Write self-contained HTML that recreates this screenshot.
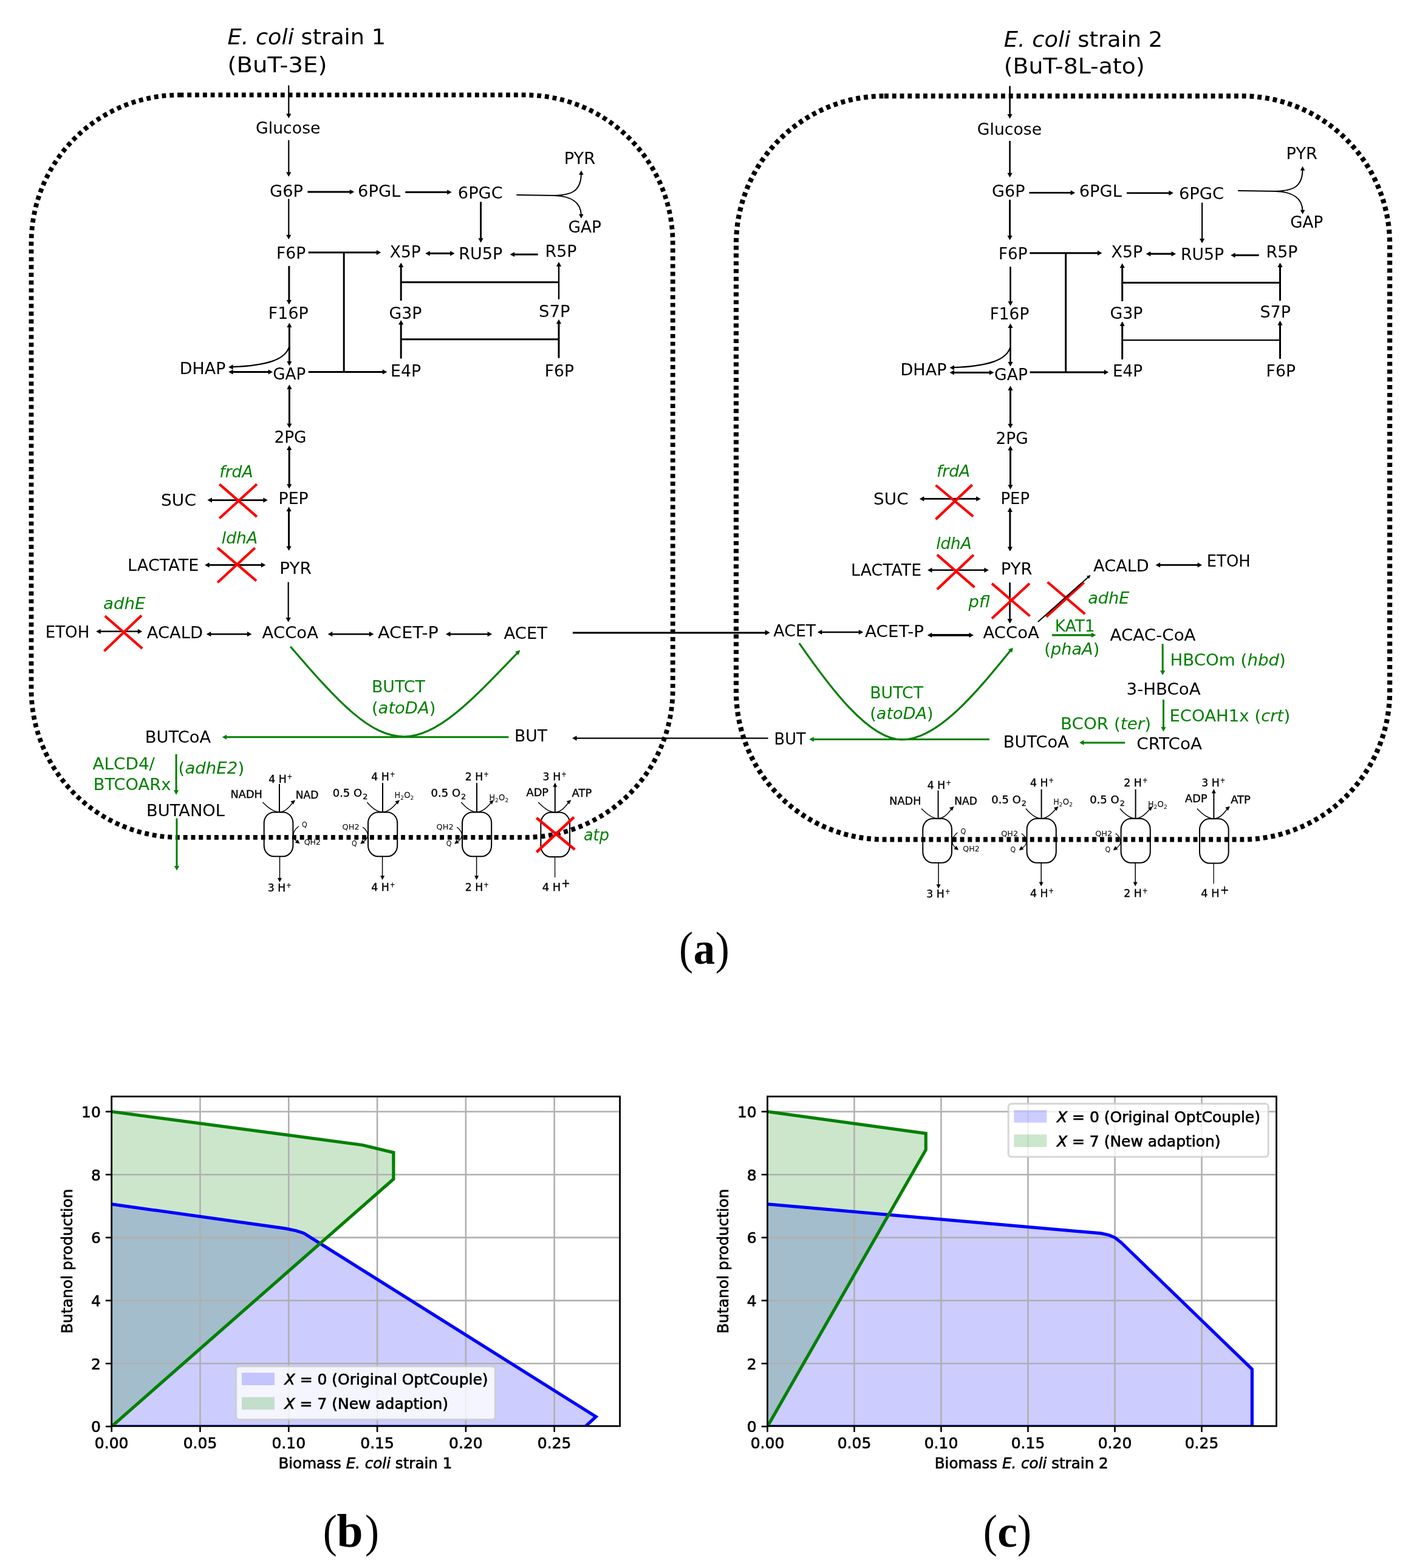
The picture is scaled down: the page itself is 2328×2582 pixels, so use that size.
<!DOCTYPE html>
<html lang="en"><head><meta charset="utf-8"><title>E. coli co-culture butanol production</title>
<style>
html,body{margin:0;padding:0;background:#fff;width:2328px;height:2582px;overflow:hidden}
svg{display:block}
svg text{font-family:"DejaVu Sans","Liberation Sans",sans-serif}
svg text.cap{font-family:"Liberation Serif","DejaVu Serif",serif}
</style></head>
<body>
<svg width="2328" height="2582" viewBox="0 0 2328 2582">
<rect x="0" y="0" width="2328" height="2582" fill="#fff" stroke="none"/>
<g stroke="#000" fill="#000">
<path d="M295.5 156.4H863.7A244 244 0 0 1 1107.7 400.4V1134.9A244 244 0 0 1 863.7 1378.9H295.5A244 244 0 0 1 51.5 1134.9V400.4A244 244 0 0 1 295.5 156.4Z" stroke-width="7.8" stroke-dasharray="6.9 5.9" fill="none"/>
<text x="374.5" y="73.4" font-size="36" textLength="260.5" lengthAdjust="spacingAndGlyphs" stroke="none"><tspan font-style="italic">E. coli</tspan> strain 1</text>
<text x="374.5" y="118.8" font-size="36" textLength="164.0" lengthAdjust="spacingAndGlyphs" stroke="none">(BuT-3E)</text>
<polygon points="475.3,194.7 471.2,187.2 479.4,187.2" stroke="none"/>
<line x1="475.3" y1="140.6" x2="475.3" y2="188.2" stroke-width="2.2"/>
<text x="421.0" y="219.8" font-size="27" textLength="106.5" lengthAdjust="spacingAndGlyphs" stroke="none">Glucose</text>
<polygon points="475.3,291.0 471.2,283.5 479.4,283.5" stroke="none"/>
<line x1="475.3" y1="230.8" x2="475.3" y2="284.5" stroke-width="2.2"/>
<text x="444.0" y="324.4" font-size="27" textLength="55.0" lengthAdjust="spacingAndGlyphs" stroke="none">G6P</text>
<polygon points="583.3,316.0 575.8,320.1 575.8,311.9" stroke="none"/>
<line x1="506.4" y1="316.0" x2="576.8" y2="316.0" stroke-width="3.2"/>
<text x="589.0" y="324.4" font-size="27" textLength="70.3" lengthAdjust="spacingAndGlyphs" stroke="none">6PGL</text>
<polygon points="743.7,316.5 736.2,320.6 736.2,312.4" stroke="none"/>
<line x1="667.3" y1="316.5" x2="737.2" y2="316.5" stroke-width="3.0"/>
<text x="753.8" y="326.7" font-size="27" textLength="74.0" lengthAdjust="spacingAndGlyphs" stroke="none">6PGC</text>
<text x="928.8" y="270.0" font-size="27" textLength="51.4" lengthAdjust="spacingAndGlyphs" stroke="none">PYR</text>
<text x="935.4" y="383.0" font-size="27" textLength="54.6" lengthAdjust="spacingAndGlyphs" stroke="none">GAP</text>
<path d="M850.4 321.0L916.4 322.0" stroke-width="2.2" fill="none" />
<path d="M912.4 322.0C940.0 321.0 956.0 316.0 956.9 287.0" stroke-width="2.0" fill="none" />
<polygon points="956.9,280.7 960.7,287.7 953.1,287.7" stroke="none"/>
<path d="M912.4 322.0C940.0 323.0 956.0 332.0 956.9 354.0" stroke-width="2.0" fill="none" />
<polygon points="956.9,359.8 953.1,352.8 960.7,352.8" stroke="none"/>
<polygon points="791.6,399.7 787.5,392.2 795.7,392.2" stroke="none"/>
<line x1="791.6" y1="332.4" x2="791.6" y2="393.2" stroke-width="2.8"/>
<polygon points="475.3,394.3 471.2,386.8 479.4,386.8" stroke="none"/>
<line x1="475.3" y1="327.5" x2="475.3" y2="387.8" stroke-width="2.2"/>
<text x="455.0" y="426.4" font-size="27" textLength="48.3" lengthAdjust="spacingAndGlyphs" stroke="none">F6P</text>
<polygon points="627.3,415.8 619.8,419.9 619.8,411.7" stroke="none"/>
<line x1="507.7" y1="415.8" x2="620.8" y2="415.8" stroke-width="3.0"/>
<path d="M566.2 415.8V612.4" stroke-width="3.0" fill="none" />
<text x="641.8" y="424.0" font-size="27" textLength="51.0" lengthAdjust="spacingAndGlyphs" stroke="none">X5P</text>
<polygon points="748.6,417.3 741.1,421.4 741.1,413.2" stroke="none"/>
<polygon points="700.2,417.3 707.7,413.2 707.7,421.4" stroke="none"/>
<line x1="706.7" y1="417.3" x2="742.1" y2="417.3" stroke-width="3.0"/>
<text x="755.2" y="427.0" font-size="27" textLength="72.0" lengthAdjust="spacingAndGlyphs" stroke="none">RU5P</text>
<polygon points="839.6,419.0 847.1,414.9 847.1,423.1" stroke="none"/>
<line x1="885.7" y1="419.0" x2="846.1" y2="419.0" stroke-width="3.0"/>
<text x="897.6" y="423.4" font-size="27" textLength="52.0" lengthAdjust="spacingAndGlyphs" stroke="none">R5P</text>
<polygon points="660.2,432.6 664.3,440.1 656.1,440.1" stroke="none"/>
<line x1="660.2" y1="495.0" x2="660.2" y2="439.1" stroke-width="3.0"/>
<path d="M660.2 464.7H920" stroke-width="3.0" fill="none" />
<polygon points="920.0,431.3 924.1,438.8 915.9,438.8" stroke="none"/>
<line x1="920.0" y1="492.9" x2="920.0" y2="437.8" stroke-width="2.4"/>
<text x="441.8" y="524.5" font-size="27" textLength="66.0" lengthAdjust="spacingAndGlyphs" stroke="none">F16P</text>
<text x="640.4" y="524.5" font-size="27" textLength="54.0" lengthAdjust="spacingAndGlyphs" stroke="none">G3P</text>
<text x="887.0" y="522.0" font-size="27" textLength="51.5" lengthAdjust="spacingAndGlyphs" stroke="none">S7P</text>
<polygon points="660.2,527.1 664.3,534.6 656.1,534.6" stroke="none"/>
<line x1="660.2" y1="590.4" x2="660.2" y2="533.6" stroke-width="3.0"/>
<path d="M660.2 558.8H920" stroke-width="3.0" fill="none" />
<polygon points="920.0,525.8 924.1,533.3 915.9,533.3" stroke="none"/>
<line x1="920.0" y1="589.6" x2="920.0" y2="532.3" stroke-width="3.0"/>
<polygon points="475.9,501.6 471.8,494.1 480.0,494.1" stroke="none"/>
<line x1="475.9" y1="438.0" x2="475.9" y2="495.1" stroke-width="3.0"/>
<polygon points="476.4,602.6 472.3,595.1 480.5,595.1" stroke="none"/>
<polygon points="476.4,531.5 480.5,539.0 472.3,539.0" stroke="none"/>
<line x1="476.4" y1="538.0" x2="476.4" y2="596.1" stroke-width="3.0"/>
<text x="295.8" y="616.2" font-size="27" textLength="75.6" lengthAdjust="spacingAndGlyphs" stroke="none">DHAP</text>
<text x="449.2" y="624.6" font-size="27" textLength="54.0" lengthAdjust="spacingAndGlyphs" stroke="none">GAP</text>
<polygon points="449.2,612.5 441.7,616.6 441.7,608.4" stroke="none"/>
<polygon points="376.2,612.5 383.7,608.4 383.7,616.6" stroke="none"/>
<line x1="382.7" y1="612.5" x2="442.7" y2="612.5" stroke-width="3.2"/>
<path d="M476 571C470 592 440 602 383 604.2" stroke-width="2.2" fill="none" />
<polygon points="376.2,604.4 383.7,600.3 383.7,608.5" stroke="none"/>
<polygon points="637.4,612.4 629.9,616.5 629.9,608.3" stroke="none"/>
<line x1="507.7" y1="612.4" x2="630.9" y2="612.4" stroke-width="3.0"/>
<text x="643.0" y="619.5" font-size="27" textLength="50.2" lengthAdjust="spacingAndGlyphs" stroke="none">E4P</text>
<text x="896.7" y="619.5" font-size="27" textLength="48.3" lengthAdjust="spacingAndGlyphs" stroke="none">F6P</text>
<polygon points="476.4,705.0 472.3,697.5 480.5,697.5" stroke="none"/>
<polygon points="476.4,633.2 480.5,640.7 472.3,640.7" stroke="none"/>
<line x1="476.4" y1="639.7" x2="476.4" y2="698.5" stroke-width="3.0"/>
<text x="451.4" y="729.1" font-size="27" textLength="53.2" lengthAdjust="spacingAndGlyphs" stroke="none">2PG</text>
<polygon points="476.2,804.7 472.1,797.2 480.3,797.2" stroke="none"/>
<polygon points="476.2,733.5 480.3,741.0 472.1,741.0" stroke="none"/>
<line x1="476.2" y1="740.0" x2="476.2" y2="798.2" stroke-width="3.0"/>
<text x="361.3" y="786.3" font-size="27" fill="#007f00" font-style="italic" textLength="55.4" lengthAdjust="spacingAndGlyphs" stroke="none">frdA</text>
<text x="265.0" y="833.3" font-size="27" textLength="58.0" lengthAdjust="spacingAndGlyphs" stroke="none">SUC</text>
<polygon points="440.9,823.6 433.4,827.7 433.4,819.5" stroke="none"/>
<polygon points="341.5,823.6 349.0,819.5 349.0,827.7" stroke="none"/>
<line x1="348.0" y1="823.6" x2="434.4" y2="823.6" stroke-width="2.6"/>
<path d="M361.3 797.3L422.9 850.9M422.9 797.3L361.3 853.5" stroke="#ff0000" stroke-width="4.2" fill="none"/>
<text x="458.5" y="830.2" font-size="27" textLength="49.2" lengthAdjust="spacingAndGlyphs" stroke="none">PEP</text>
<polygon points="475.6,907.1 471.5,899.6 479.7,899.6" stroke="none"/>
<polygon points="475.6,834.6 479.7,842.1 471.5,842.1" stroke="none"/>
<line x1="475.6" y1="841.1" x2="475.6" y2="900.6" stroke-width="3.0"/>
<text x="364.8" y="895.3" font-size="27" fill="#007f00" font-style="italic" textLength="59.4" lengthAdjust="spacingAndGlyphs" stroke="none">ldhA</text>
<text x="210.1" y="940.1" font-size="27" textLength="117.4" lengthAdjust="spacingAndGlyphs" stroke="none">LACTATE</text>
<polygon points="437.4,930.4 429.9,934.5 429.9,926.3" stroke="none"/>
<polygon points="337.1,930.4 344.6,926.3 344.6,934.5" stroke="none"/>
<line x1="343.6" y1="930.4" x2="430.9" y2="930.4" stroke-width="2.6"/>
<path d="M358.2 902.2L422.0 956.3M419.8 902.2L358.2 959.3" stroke="#ff0000" stroke-width="4.2" fill="none"/>
<text x="460.2" y="944.6" font-size="27" textLength="52.8" lengthAdjust="spacingAndGlyphs" stroke="none">PYR</text>
<polygon points="474.7,1024.4 470.6,1016.9 478.8,1016.9" stroke="none"/>
<line x1="474.7" y1="958.5" x2="474.7" y2="1017.9" stroke-width="2.2"/>
<text x="170.1" y="1003.3" font-size="27" fill="#007f00" font-style="italic" textLength="69.5" lengthAdjust="spacingAndGlyphs" stroke="none">adhE</text>
<text x="74.7" y="1049.5" font-size="27" textLength="72.6" lengthAdjust="spacingAndGlyphs" stroke="none">ETOH</text>
<polygon points="234.3,1039.8 226.8,1043.9 226.8,1035.7" stroke="none"/>
<polygon points="158.2,1039.8 165.7,1035.7 165.7,1043.9" stroke="none"/>
<line x1="164.7" y1="1039.8" x2="227.8" y2="1039.8" stroke-width="2.6"/>
<path d="M172.7 1014.3L234.3 1067.9M233.0 1013.4L171.4 1072.3" stroke="#ff0000" stroke-width="4.2" fill="none"/>
<text x="241.8" y="1050.8" font-size="27" textLength="92.2" lengthAdjust="spacingAndGlyphs" stroke="none">ACALD</text>
<polygon points="414.5,1044.2 407.0,1048.3 407.0,1040.1" stroke="none"/>
<polygon points="339.8,1044.2 347.3,1040.1 347.3,1048.3" stroke="none"/>
<line x1="346.3" y1="1044.2" x2="408.0" y2="1044.2" stroke-width="2.6"/>
<text x="431.6" y="1050.8" font-size="27" textLength="92.4" lengthAdjust="spacingAndGlyphs" stroke="none">ACCoA</text>
<polygon points="615.4,1044.2 607.9,1048.3 607.9,1040.1" stroke="none"/>
<polygon points="539.8,1044.2 547.3,1040.1 547.3,1048.3" stroke="none"/>
<line x1="546.3" y1="1044.2" x2="608.9" y2="1044.2" stroke-width="2.6"/>
<text x="622.0" y="1050.8" font-size="27" textLength="99.8" lengthAdjust="spacingAndGlyphs" stroke="none">ACET-P</text>
<polygon points="810.1,1044.2 802.6,1048.3 802.6,1040.1" stroke="none"/>
<polygon points="734.0,1044.2 741.5,1040.1 741.5,1048.3" stroke="none"/>
<line x1="740.5" y1="1044.2" x2="803.6" y2="1044.2" stroke-width="2.6"/>
<text x="829.5" y="1051.6" font-size="27" textLength="71.6" lengthAdjust="spacingAndGlyphs" stroke="none">ACET</text>
<polygon points="1267.3,1042.0 1259.8,1046.1 1259.8,1037.9" stroke="none"/>
<line x1="942.9" y1="1042.0" x2="1260.8" y2="1042.0" stroke-width="3.0"/>
<path d="M478.2 1064.8C560 1160 610 1213 666 1213C722 1213 780 1150 853 1074" stroke-width="3.2" stroke="#007f00" fill="none" />
<polygon points="856.3,1070.5 853.9,1078.7 848.1,1072.9" stroke="none" fill="#007f00"/>
<text x="611.9" y="1139.6" font-size="27" fill="#007f00" textLength="87.9" lengthAdjust="spacingAndGlyphs" stroke="none">BUTCT</text>
<text x="611.9" y="1174.7" font-size="27" fill="#007f00" textLength="105.5" lengthAdjust="spacingAndGlyphs" stroke="none">(<tspan font-style="italic">atoDA</tspan>)</text>
<text x="238.7" y="1223.0" font-size="27" textLength="108.6" lengthAdjust="spacingAndGlyphs" stroke="none">BUTCoA</text>
<polygon points="365.7,1213.8 373.2,1209.7 373.2,1217.9" stroke="none" fill="#007f00"/>
<line x1="837.4" y1="1213.8" x2="372.2" y2="1213.8" stroke-width="3.0" stroke="#007f00"/>
<text x="847.0" y="1220.9" font-size="27" textLength="54.1" lengthAdjust="spacingAndGlyphs" stroke="none">BUT</text>
<polygon points="942.0,1215.6 949.5,1211.5 949.5,1219.7" stroke="none"/>
<line x1="1264.6" y1="1215.6" x2="948.5" y2="1215.6" stroke-width="2.2"/>
<text x="152.5" y="1267.0" font-size="27" fill="#007f00" textLength="102.5" lengthAdjust="spacingAndGlyphs" stroke="none">ALCD4/</text>
<text x="153.8" y="1300.9" font-size="27" fill="#007f00" textLength="127.5" lengthAdjust="spacingAndGlyphs" stroke="none">BTCOARx</text>
<polygon points="290.1,1308.8 286.0,1301.3 294.2,1301.3" stroke="none" fill="#007f00"/>
<line x1="290.1" y1="1242.0" x2="290.1" y2="1302.3" stroke-width="3.0" stroke="#007f00"/>
<text x="293.6" y="1273.6" font-size="27" fill="#007f00" textLength="108.6" lengthAdjust="spacingAndGlyphs" stroke="none">(<tspan font-style="italic">adhE2</tspan>)</text>
<text x="240.9" y="1344.0" font-size="27" textLength="129.2" lengthAdjust="spacingAndGlyphs" stroke="none">BUTANOL</text>
<polygon points="291.0,1433.4 286.9,1425.9 295.1,1425.9" stroke="none" fill="#007f00"/>
<line x1="291.0" y1="1347.5" x2="291.0" y2="1426.9" stroke-width="3.0" stroke="#007f00"/>
<rect x="434.7" y="1337.4" width="47.7" height="72.9" rx="16.5" ry="18" fill="none" stroke-width="2.0"/>
<path d="M460.0 1291.1V1337.4" stroke-width="2.0" fill="none" />
<text><tspan x="442.2" y="1288.9" font-size="16.8" textLength="29.6" lengthAdjust="spacingAndGlyphs" stroke="#000" stroke-width="0.35">4 H</tspan><tspan x="472.8" y="1282.9" font-size="11.5" textLength="8.4" lengthAdjust="spacingAndGlyphs" stroke="#000" stroke-width="0.25">+</tspan></text>
<text x="379.6" y="1314.1" font-size="16.8" textLength="52.3" lengthAdjust="spacingAndGlyphs" stroke="#000" stroke-width="0.35">NADH</text>
<text x="486.7" y="1314.8" font-size="16.8" textLength="37.7" lengthAdjust="spacingAndGlyphs" stroke="#000" stroke-width="0.35">NAD</text>
<path d="M432.5 1321.0Q448.0 1337.2 460.0 1337.2Q471.0 1337.2 481.6 1321.8" stroke-width="1.4" fill="none" />
<polygon points="486.1,1317.6 483.0,1324.8 478.5,1319.5" stroke="none"/>
<polygon points="460.5,1452.7 457.0,1445.7 464.0,1445.7" stroke="none"/>
<line x1="460.5" y1="1410.3" x2="460.5" y2="1446.7" stroke-width="1.5"/>
<text><tspan x="440.7" y="1467.6" font-size="16.8" textLength="29.6" lengthAdjust="spacingAndGlyphs" stroke="#000" stroke-width="0.35">3 H</tspan><tspan x="471.3" y="1461.6" font-size="11.5" textLength="8.4" lengthAdjust="spacingAndGlyphs" stroke="#000" stroke-width="0.25">+</tspan></text>
<text x="496.9" y="1362.1" font-size="11.5" textLength="8.8" lengthAdjust="spacingAndGlyphs" stroke="none">Q</text>
<text x="500.7" y="1391.0" font-size="11.5" textLength="27.4" lengthAdjust="spacingAndGlyphs" stroke="none">QH2</text>
<path d="M491.7 1360.6Q483.0 1368.0 483.2 1375.0Q483.4 1382.0 489.5 1386.0" stroke-width="1.3" fill="none" />
<polygon points="493.6,1389.2 485.9,1387.8 490.1,1382.2" stroke="none"/>
<rect x="606.0" y="1337.4" width="48.2" height="72.9" rx="16.5" ry="18" fill="none" stroke-width="2.0"/>
<path d="M630.0 1289.2V1337.4" stroke-width="2.0" fill="none" />
<text><tspan x="611.3" y="1284.6" font-size="16.8" textLength="29.6" lengthAdjust="spacingAndGlyphs" stroke="#000" stroke-width="0.35">4 H</tspan><tspan x="641.9" y="1278.6" font-size="11.5" textLength="8.4" lengthAdjust="spacingAndGlyphs" stroke="#000" stroke-width="0.25">+</tspan></text>
<text><tspan x="547.7" y="1312.2" font-size="16.8" textLength="48.5" lengthAdjust="spacingAndGlyphs" stroke="#000" stroke-width="0.35">0.5 O</tspan><tspan x="597.2" y="1316.4" font-size="11.5" textLength="8.2" lengthAdjust="spacingAndGlyphs" stroke="#000" stroke-width="0.25">2</tspan></text>
<text><tspan x="649.6" y="1314.1" font-size="13.5" textLength="9.6" lengthAdjust="spacingAndGlyphs" stroke="none">H</tspan><tspan x="659.2" y="1317.1" font-size="9.5" textLength="5.8" lengthAdjust="spacingAndGlyphs" stroke="none">2</tspan><tspan x="665.2" y="1314.1" font-size="13.5" textLength="10.4" lengthAdjust="spacingAndGlyphs" stroke="none">O</tspan><tspan x="675.6" y="1317.1" font-size="9.5" textLength="5.8" lengthAdjust="spacingAndGlyphs" stroke="none">2</tspan></text>
<path d="M604.3 1321.0Q618.0 1337.2 630.0 1337.2Q641.0 1337.2 653.5 1321.8" stroke-width="1.4" fill="none" />
<polygon points="658.0,1317.6 654.9,1324.8 650.4,1319.5" stroke="none"/>
<text x="563.6" y="1366.2" font-size="11.5" textLength="28.0" lengthAdjust="spacingAndGlyphs" stroke="none">QH2</text>
<text x="578.9" y="1392.9" font-size="11.5" textLength="8.7" lengthAdjust="spacingAndGlyphs" stroke="none">Q</text>
<path d="M597.2 1362.1Q605.2 1368.0 605.4 1375.0Q605.2 1382.0 597.5 1386.5" stroke-width="1.3" fill="none" />
<polygon points="593.1,1389.7 596.6,1382.7 600.8,1388.3" stroke="none"/>
<polygon points="629.6,1449.0 626.1,1442.0 633.1,1442.0" stroke="none"/>
<line x1="629.6" y1="1410.3" x2="629.6" y2="1443.0" stroke-width="1.5"/>
<text><tspan x="611.3" y="1466.7" font-size="16.8" textLength="29.6" lengthAdjust="spacingAndGlyphs" stroke="#000" stroke-width="0.35">4 H</tspan><tspan x="641.9" y="1460.7" font-size="11.5" textLength="8.4" lengthAdjust="spacingAndGlyphs" stroke="#000" stroke-width="0.25">+</tspan></text>
<rect x="761.0" y="1337.4" width="48.2" height="72.9" rx="16.5" ry="18" fill="none" stroke-width="2.0"/>
<path d="M785.0 1289.2V1337.4" stroke-width="2.0" fill="none" />
<text><tspan x="765.7" y="1284.6" font-size="16.8" textLength="29.6" lengthAdjust="spacingAndGlyphs" stroke="#000" stroke-width="0.35">2 H</tspan><tspan x="796.3" y="1278.6" font-size="11.5" textLength="8.4" lengthAdjust="spacingAndGlyphs" stroke="#000" stroke-width="0.25">+</tspan></text>
<text><tspan x="709.6" y="1312.2" font-size="16.8" textLength="48.5" lengthAdjust="spacingAndGlyphs" stroke="#000" stroke-width="0.35">0.5 O</tspan><tspan x="759.1" y="1316.4" font-size="11.5" textLength="8.2" lengthAdjust="spacingAndGlyphs" stroke="#000" stroke-width="0.25">2</tspan></text>
<text><tspan x="805.4" y="1318.2" font-size="13.5" textLength="9.6" lengthAdjust="spacingAndGlyphs" stroke="none">H</tspan><tspan x="815.0" y="1321.2" font-size="9.5" textLength="5.8" lengthAdjust="spacingAndGlyphs" stroke="none">2</tspan><tspan x="821.0" y="1318.2" font-size="13.5" textLength="10.4" lengthAdjust="spacingAndGlyphs" stroke="none">O</tspan><tspan x="831.4" y="1321.2" font-size="9.5" textLength="5.8" lengthAdjust="spacingAndGlyphs" stroke="none">2</tspan></text>
<path d="M759.3 1321.0Q773.0 1337.2 785.0 1337.2Q796.0 1337.2 808.5 1321.8" stroke-width="1.4" fill="none" />
<polygon points="813.0,1317.6 809.9,1324.8 805.4,1319.5" stroke="none"/>
<text x="718.6" y="1366.2" font-size="11.5" textLength="28.0" lengthAdjust="spacingAndGlyphs" stroke="none">QH2</text>
<text x="734.8" y="1392.9" font-size="11.5" textLength="8.7" lengthAdjust="spacingAndGlyphs" stroke="none">Q</text>
<path d="M752.2 1362.1Q760.2 1368.0 760.4 1375.0Q760.2 1382.0 752.5 1386.5" stroke-width="1.3" fill="none" />
<polygon points="748.1,1389.7 751.6,1382.7 755.8,1388.3" stroke="none"/>
<polygon points="784.6,1449.0 781.1,1442.0 788.1,1442.0" stroke="none"/>
<line x1="784.6" y1="1410.3" x2="784.6" y2="1443.0" stroke-width="1.5"/>
<text><tspan x="765.7" y="1466.7" font-size="16.8" textLength="29.6" lengthAdjust="spacingAndGlyphs" stroke="#000" stroke-width="0.35">2 H</tspan><tspan x="796.3" y="1460.7" font-size="11.5" textLength="8.4" lengthAdjust="spacingAndGlyphs" stroke="#000" stroke-width="0.25">+</tspan></text>
<rect x="890.4" y="1337.8" width="47.7" height="73.2" rx="16.5" ry="18" fill="none" stroke-width="2.0"/>
<polygon points="913.8,1288.7 917.3,1295.7 910.3,1295.7" stroke="none"/>
<line x1="913.8" y1="1337.8" x2="913.8" y2="1294.7" stroke-width="2.0"/>
<text><tspan x="893.6" y="1284.6" font-size="16.8" textLength="29.6" lengthAdjust="spacingAndGlyphs" stroke="#000" stroke-width="0.35">3 H</tspan><tspan x="924.2" y="1278.6" font-size="11.5" textLength="8.4" lengthAdjust="spacingAndGlyphs" stroke="#000" stroke-width="0.25">+</tspan></text>
<text x="866.5" y="1310.7" font-size="16.8" textLength="36.5" lengthAdjust="spacingAndGlyphs" stroke="#000" stroke-width="0.35">ADP</text>
<text x="941.6" y="1312.0" font-size="16.8" textLength="32.7" lengthAdjust="spacingAndGlyphs" stroke="#000" stroke-width="0.35">ATP</text>
<path d="M886.2 1321.0Q901.8 1337.6 913.8 1337.6Q924.8 1337.6 935.8 1321.5" stroke-width="1.4" fill="none" />
<polygon points="940.3,1317.3 937.2,1324.5 932.7,1319.2" stroke="none"/>
<path d="M913.6 1411.0V1444.8" stroke-width="1.3" fill="none" />
<text><tspan x="892.7" y="1466.7" font-size="16.8" textLength="30.5" lengthAdjust="spacingAndGlyphs" stroke="#000" stroke-width="0.35">4 H</tspan><tspan x="924.3" y="1461.1" font-size="20" textLength="14.4" lengthAdjust="spacingAndGlyphs" stroke="#000" stroke-width="0.35">+</tspan></text>
<path d="M883.3 1346.8L946.3 1398.9M945.0 1345.6L883.3 1403.2" stroke="#ff0000" stroke-width="4.6" fill="none"/>
<text x="960.9" y="1384.1" font-size="27" fill="#007f00" font-style="italic" textLength="42.0" lengthAdjust="spacingAndGlyphs" stroke="none">atp</text>
<path d="M1456.0 158.1H2044.1A244 244 0 0 1 2288.1 402.1V1138.4A244 244 0 0 1 2044.1 1382.4H1456.0A244 244 0 0 1 1212.0 1138.4V402.1A244 244 0 0 1 1456.0 158.1Z" stroke-width="8.2" stroke-dasharray="6.9 5.9" fill="none"/>
<text x="1652.7" y="76.9" font-size="36" textLength="261.6" lengthAdjust="spacingAndGlyphs" stroke="none"><tspan font-style="italic">E. coli</tspan> strain 2</text>
<text x="1652.7" y="120.9" font-size="36" textLength="232.0" lengthAdjust="spacingAndGlyphs" stroke="none">(BuT-8L-ato)</text>
<polygon points="1662.6,195.6 1658.5,188.1 1666.7,188.1" stroke="none"/>
<line x1="1662.6" y1="141.5" x2="1662.6" y2="189.1" stroke-width="2.6"/>
<text x="1608.8" y="222.0" font-size="27" textLength="106.4" lengthAdjust="spacingAndGlyphs" stroke="none">Glucose</text>
<polygon points="1662.6,292.3 1658.5,284.8 1666.7,284.8" stroke="none"/>
<line x1="1662.6" y1="232.0" x2="1662.6" y2="285.8" stroke-width="2.6"/>
<text x="1633.0" y="324.4" font-size="27" textLength="54.5" lengthAdjust="spacingAndGlyphs" stroke="none">G6P</text>
<polygon points="1770.1,317.4 1762.6,321.5 1762.6,313.3" stroke="none"/>
<line x1="1694.5" y1="317.4" x2="1763.6" y2="317.4" stroke-width="2.8"/>
<text x="1776.7" y="324.4" font-size="27" textLength="70.3" lengthAdjust="spacingAndGlyphs" stroke="none">6PGL</text>
<polygon points="1931.9,317.8 1924.4,321.9 1924.4,313.7" stroke="none"/>
<line x1="1855.0" y1="317.8" x2="1925.4" y2="317.8" stroke-width="2.8"/>
<text x="1940.9" y="328.0" font-size="27" textLength="74.3" lengthAdjust="spacingAndGlyphs" stroke="none">6PGC</text>
<text x="2117.6" y="262.1" font-size="27" textLength="51.4" lengthAdjust="spacingAndGlyphs" stroke="none">PYR</text>
<text x="2124.2" y="375.0" font-size="27" textLength="54.0" lengthAdjust="spacingAndGlyphs" stroke="none">GAP</text>
<path d="M2038.1 314.0L2104.1 315.0" stroke-width="2.2" fill="none" />
<path d="M2100.1 315.0C2127.7 314.0 2143.7 309.0 2144.6 280.0" stroke-width="2.0" fill="none" />
<polygon points="2144.6,273.7 2148.4,280.7 2140.8,280.7" stroke="none"/>
<path d="M2100.1 315.0C2127.7 316.0 2143.7 325.0 2144.6 347.0" stroke-width="2.0" fill="none" />
<polygon points="2144.6,352.8 2140.8,345.8 2148.4,345.8" stroke="none"/>
<polygon points="1979.1,400.5 1975.0,393.0 1983.2,393.0" stroke="none"/>
<line x1="1979.1" y1="333.7" x2="1979.1" y2="394.0" stroke-width="2.2"/>
<polygon points="1662.6,395.6 1658.5,388.1 1666.7,388.1" stroke="none"/>
<line x1="1662.6" y1="328.8" x2="1662.6" y2="389.1" stroke-width="2.8"/>
<text x="1644.0" y="427.3" font-size="27" textLength="47.5" lengthAdjust="spacingAndGlyphs" stroke="none">F6P</text>
<polygon points="1814.5,416.7 1807.0,420.8 1807.0,412.6" stroke="none"/>
<line x1="1695.4" y1="416.7" x2="1808.0" y2="416.7" stroke-width="3.0"/>
<path d="M1754.7 416.7V612.9" stroke-width="3.0" fill="none" />
<text x="1829.5" y="424.2" font-size="27" textLength="51.8" lengthAdjust="spacingAndGlyphs" stroke="none">X5P</text>
<polygon points="1936.0,418.1 1928.5,422.2 1928.5,414.0" stroke="none"/>
<polygon points="1886.8,418.1 1894.3,414.0 1894.3,422.2" stroke="none"/>
<line x1="1893.3" y1="418.1" x2="1929.5" y2="418.1" stroke-width="3.0"/>
<text x="1944.0" y="427.8" font-size="27" textLength="71.2" lengthAdjust="spacingAndGlyphs" stroke="none">RU5P</text>
<polygon points="2026.2,420.3 2033.7,416.2 2033.7,424.4" stroke="none"/>
<line x1="2072.7" y1="420.3" x2="2032.7" y2="420.3" stroke-width="3.0"/>
<text x="2084.6" y="423.8" font-size="27" textLength="52.0" lengthAdjust="spacingAndGlyphs" stroke="none">R5P</text>
<polygon points="1847.7,433.5 1851.8,441.0 1843.6,441.0" stroke="none"/>
<line x1="1847.7" y1="496.0" x2="1847.7" y2="440.0" stroke-width="3.0"/>
<path d="M1847.7 465.6H2107.5" stroke-width="3.0" fill="none" />
<polygon points="2107.5,432.6 2111.6,440.1 2103.4,440.1" stroke="none"/>
<line x1="2107.5" y1="495.0" x2="2107.5" y2="439.1" stroke-width="3.0"/>
<text x="1629.7" y="525.8" font-size="27" textLength="64.6" lengthAdjust="spacingAndGlyphs" stroke="none">F16P</text>
<text x="1827.5" y="525.0" font-size="27" textLength="54.0" lengthAdjust="spacingAndGlyphs" stroke="none">G3P</text>
<text x="2074.5" y="522.7" font-size="27" textLength="50.5" lengthAdjust="spacingAndGlyphs" stroke="none">S7P</text>
<polygon points="1847.7,529.3 1851.8,536.8 1843.6,536.8" stroke="none"/>
<line x1="1847.7" y1="591.8" x2="1847.7" y2="535.8" stroke-width="3.0"/>
<path d="M1847.7 560.1H2107.5" stroke-width="2.2" fill="none" />
<polygon points="2107.5,528.0 2111.6,535.5 2103.4,535.5" stroke="none"/>
<line x1="2107.5" y1="590.9" x2="2107.5" y2="534.5" stroke-width="3.0"/>
<polygon points="1663.5,503.8 1659.4,496.3 1667.6,496.3" stroke="none"/>
<line x1="1663.5" y1="439.2" x2="1663.5" y2="497.3" stroke-width="2.6"/>
<polygon points="1663.5,603.6 1659.4,596.1 1667.6,596.1" stroke="none"/>
<polygon points="1663.5,532.4 1667.6,539.9 1659.4,539.9" stroke="none"/>
<line x1="1663.5" y1="538.9" x2="1663.5" y2="597.1" stroke-width="2.6"/>
<text x="1482.5" y="617.9" font-size="27" textLength="76.0" lengthAdjust="spacingAndGlyphs" stroke="none">DHAP</text>
<text x="1637.1" y="625.6" font-size="27" textLength="55.0" lengthAdjust="spacingAndGlyphs" stroke="none">GAP</text>
<polygon points="1636.5,613.5 1629.0,617.6 1629.0,609.4" stroke="none"/>
<polygon points="1563.5,613.5 1571.0,609.4 1571.0,617.6" stroke="none"/>
<line x1="1570.0" y1="613.5" x2="1630.0" y2="613.5" stroke-width="3.0"/>
<path d="M1663.2 572C1657 593 1627 603 1570 605.2" stroke-width="2.2" fill="none" />
<polygon points="1563.5,605.4 1571.0,601.3 1571.0,609.5" stroke="none"/>
<polygon points="1825.3,612.9 1817.8,617.0 1817.8,608.8" stroke="none"/>
<line x1="1695.6" y1="612.9" x2="1818.8" y2="612.9" stroke-width="3.0"/>
<text x="1831.9" y="620.3" font-size="27" textLength="49.2" lengthAdjust="spacingAndGlyphs" stroke="none">E4P</text>
<text x="2084.6" y="620.3" font-size="27" textLength="48.4" lengthAdjust="spacingAndGlyphs" stroke="none">F6P</text>
<polygon points="1663.5,705.4 1659.4,697.9 1667.6,697.9" stroke="none"/>
<polygon points="1663.5,635.2 1667.6,642.7 1659.4,642.7" stroke="none"/>
<line x1="1663.5" y1="641.7" x2="1663.5" y2="698.9" stroke-width="3.0"/>
<text x="1639.5" y="730.8" font-size="27" textLength="53.4" lengthAdjust="spacingAndGlyphs" stroke="none">2PG</text>
<polygon points="1663.5,805.9 1659.4,798.4 1667.6,798.4" stroke="none"/>
<polygon points="1663.5,734.1 1667.6,741.6 1659.4,741.6" stroke="none"/>
<line x1="1663.5" y1="740.6" x2="1663.5" y2="799.4" stroke-width="3.0"/>
<text x="1541.9" y="784.5" font-size="27" fill="#007f00" font-style="italic" textLength="55.4" lengthAdjust="spacingAndGlyphs" stroke="none">frdA</text>
<text x="1438.0" y="831.3" font-size="27" textLength="57.7" lengthAdjust="spacingAndGlyphs" stroke="none">SUC</text>
<polygon points="1614.7,821.4 1607.2,825.5 1607.2,817.3" stroke="none"/>
<polygon points="1513.9,821.4 1521.4,817.3 1521.4,825.5" stroke="none"/>
<line x1="1520.4" y1="821.4" x2="1608.2" y2="821.4" stroke-width="2.6"/>
<path d="M1540.6 799.0L1602.2 850.4M1600.6 798.4L1540.6 855.1" stroke="#ff0000" stroke-width="4.2" fill="none"/>
<text x="1647.4" y="830.3" font-size="27" textLength="47.8" lengthAdjust="spacingAndGlyphs" stroke="none">PEP</text>
<polygon points="1662.9,908.1 1658.8,900.6 1667.0,900.6" stroke="none"/>
<polygon points="1662.9,835.6 1667.0,843.1 1658.8,843.1" stroke="none"/>
<line x1="1662.9" y1="842.1" x2="1662.9" y2="901.6" stroke-width="3.0"/>
<text x="1541.2" y="903.9" font-size="27" fill="#007f00" font-style="italic" textLength="58.4" lengthAdjust="spacingAndGlyphs" stroke="none">ldhA</text>
<text x="1401.1" y="948.4" font-size="27" textLength="116.0" lengthAdjust="spacingAndGlyphs" stroke="none">LACTATE</text>
<polygon points="1627.9,938.8 1620.4,942.9 1620.4,934.7" stroke="none"/>
<polygon points="1527.0,938.8 1534.5,934.7 1534.5,942.9" stroke="none"/>
<line x1="1533.5" y1="938.8" x2="1621.4" y2="938.8" stroke-width="2.6"/>
<path d="M1542.9 913.7L1604.5 967.1M1602.9 913.7L1542.9 970.4" stroke="#ff0000" stroke-width="4.2" fill="none"/>
<text x="1647.8" y="945.8" font-size="27" textLength="51.8" lengthAdjust="spacingAndGlyphs" stroke="none">PYR</text>
<text x="1800.1" y="941.0" font-size="27" textLength="91.7" lengthAdjust="spacingAndGlyphs" stroke="none">ACALD</text>
<polygon points="1979.1,930.4 1971.6,934.5 1971.6,926.3" stroke="none"/>
<polygon points="1902.6,930.4 1910.1,926.3 1910.1,934.5" stroke="none"/>
<line x1="1909.1" y1="930.4" x2="1972.6" y2="930.4" stroke-width="2.6"/>
<text x="1986.7" y="932.7" font-size="27" textLength="72.2" lengthAdjust="spacingAndGlyphs" stroke="none">ETOH</text>
<polygon points="1662.6,1026.7 1658.5,1019.2 1666.7,1019.2" stroke="none"/>
<line x1="1662.6" y1="959.1" x2="1662.6" y2="1020.2" stroke-width="2.6"/>
<path d="M1633.0 960.8L1695.6 1014.5M1695.0 960.8L1633.0 1018.5" stroke="#ff0000" stroke-width="4.2" fill="none"/>
<text x="1594.6" y="1000.1" font-size="27" fill="#007f00" font-style="italic" textLength="35.0" lengthAdjust="spacingAndGlyphs" stroke="none">pfl</text>
<path d="M1724.6 958.5L1786.3 1011.2M1784.6 959.1L1722.6 1015.8" stroke="#ff0000" stroke-width="4.2" fill="none"/>
<polygon points="1795.5,946.9 1793.0,953.1 1789.0,948.6" stroke="none"/>
<line x1="1708.8" y1="1024.1" x2="1791.8" y2="950.2" stroke-width="2.0"/>
<text x="1791.2" y="993.7" font-size="27" fill="#007f00" font-style="italic" textLength="68.3" lengthAdjust="spacingAndGlyphs" stroke="none">adhE</text>
<polygon points="1267.4,1041.6 1259.9,1045.7 1259.9,1037.5" stroke="none"/>
<line x1="1259.4" y1="1041.6" x2="1260.9" y2="1041.6" stroke-width="2.6"/>
<text x="1273.3" y="1047.6" font-size="27" textLength="69.9" lengthAdjust="spacingAndGlyphs" stroke="none">ACET</text>
<polygon points="1421.3,1041.0 1413.8,1045.1 1413.8,1036.9" stroke="none"/>
<polygon points="1345.8,1041.0 1353.3,1036.9 1353.3,1045.1" stroke="none"/>
<line x1="1352.3" y1="1041.0" x2="1414.8" y2="1041.0" stroke-width="2.6"/>
<text x="1424.0" y="1048.6" font-size="27" textLength="97.2" lengthAdjust="spacingAndGlyphs" stroke="none">ACET-P</text>
<polygon points="1603.0,1045.9 1595.5,1050.0 1595.5,1041.8" stroke="none"/>
<polygon points="1526.8,1045.9 1534.3,1041.8 1534.3,1050.0" stroke="none"/>
<line x1="1533.3" y1="1045.9" x2="1596.5" y2="1045.9" stroke-width="3.6"/>
<text x="1618.5" y="1050.9" font-size="27" textLength="92.3" lengthAdjust="spacingAndGlyphs" stroke="none">ACCoA</text>
<text x="1736.8" y="1039.9" font-size="27" fill="#007f00" textLength="65.9" lengthAdjust="spacingAndGlyphs" stroke="none">KAT1</text>
<polygon points="1804.4,1045.8 1796.9,1049.9 1796.9,1041.7" stroke="none" fill="#007f00"/>
<line x1="1731.9" y1="1045.8" x2="1797.9" y2="1045.8" stroke-width="3.3" stroke="#007f00"/>
<text x="1719.3" y="1077.8" font-size="27" fill="#007f00" textLength="91.0" lengthAdjust="spacingAndGlyphs" stroke="none">(<tspan font-style="italic">phaA</tspan>)</text>
<text x="1827.5" y="1054.7" font-size="27" textLength="141.1" lengthAdjust="spacingAndGlyphs" stroke="none">ACAC-CoA</text>
<polygon points="1914.2,1111.8 1910.1,1104.3 1918.3,1104.3" stroke="none" fill="#007f00"/>
<line x1="1914.2" y1="1060.3" x2="1914.2" y2="1105.3" stroke-width="3.0" stroke="#007f00"/>
<text x="1926.4" y="1095.9" font-size="27" fill="#007f00" textLength="190.5" lengthAdjust="spacingAndGlyphs" stroke="none">HBCOm (<tspan font-style="italic">hbd</tspan>)</text>
<text x="1854.5" y="1143.7" font-size="27" textLength="122.3" lengthAdjust="spacingAndGlyphs" stroke="none">3-HBCoA</text>
<polygon points="1915.5,1204.7 1911.4,1197.2 1919.6,1197.2" stroke="none" fill="#007f00"/>
<line x1="1915.5" y1="1152.0" x2="1915.5" y2="1198.2" stroke-width="3.0" stroke="#007f00"/>
<text x="1925.4" y="1188.2" font-size="27" fill="#007f00" textLength="198.8" lengthAdjust="spacingAndGlyphs" stroke="none">ECOAH1x (<tspan font-style="italic">crt</tspan>)</text>
<text x="1746.0" y="1201.4" font-size="27" fill="#007f00" textLength="149.1" lengthAdjust="spacingAndGlyphs" stroke="none">BCOR (<tspan font-style="italic">ter</tspan>)</text>
<text x="1871.3" y="1234.4" font-size="27" textLength="107.8" lengthAdjust="spacingAndGlyphs" stroke="none">CRTCoA</text>
<polygon points="1777.0,1222.9 1784.5,1218.8 1784.5,1227.0" stroke="none" fill="#007f00"/>
<line x1="1852.2" y1="1222.9" x2="1783.5" y2="1222.9" stroke-width="3.0" stroke="#007f00"/>
<text x="1651.8" y="1231.1" font-size="27" textLength="108.1" lengthAdjust="spacingAndGlyphs" stroke="none">BUTCoA</text>
<path d="M1315.8 1059.1C1365 1130 1430 1218 1485 1218C1545 1218 1610 1137 1664.5 1070" stroke-width="3.2" stroke="#007f00" fill="none" />
<polygon points="1667.9,1066.4 1666.2,1074.8 1659.9,1069.5" stroke="none" fill="#007f00"/>
<text x="1432.2" y="1150.4" font-size="27" fill="#007f00" textLength="88.0" lengthAdjust="spacingAndGlyphs" stroke="none">BUTCT</text>
<text x="1432.2" y="1184.4" font-size="27" fill="#007f00" textLength="104.5" lengthAdjust="spacingAndGlyphs" stroke="none">(<tspan font-style="italic">atoDA</tspan>)</text>
<text x="1274.6" y="1225.6" font-size="27" textLength="52.1" lengthAdjust="spacingAndGlyphs" stroke="none">BUT</text>
<polygon points="1332.3,1217.4 1339.8,1213.3 1339.8,1221.5" stroke="none" fill="#007f00"/>
<line x1="1629.0" y1="1217.4" x2="1338.8" y2="1217.4" stroke-width="3.0" stroke="#007f00"/>
<rect x="1519.3" y="1347.9" width="47.7" height="72.9" rx="16.5" ry="18" fill="none" stroke-width="2.0"/>
<path d="M1544.6 1301.6V1347.9" stroke-width="2.0" fill="none" />
<text><tspan x="1526.8" y="1299.4" font-size="16.8" textLength="29.6" lengthAdjust="spacingAndGlyphs" stroke="#000" stroke-width="0.35">4 H</tspan><tspan x="1557.4" y="1293.4" font-size="11.5" textLength="8.4" lengthAdjust="spacingAndGlyphs" stroke="#000" stroke-width="0.25">+</tspan></text>
<text x="1464.2" y="1324.6" font-size="16.8" textLength="52.3" lengthAdjust="spacingAndGlyphs" stroke="#000" stroke-width="0.35">NADH</text>
<text x="1571.3" y="1325.3" font-size="16.8" textLength="37.7" lengthAdjust="spacingAndGlyphs" stroke="#000" stroke-width="0.35">NAD</text>
<path d="M1517.1 1331.5Q1532.6 1347.7 1544.6 1347.7Q1555.6 1347.7 1566.2 1332.3" stroke-width="1.4" fill="none" />
<polygon points="1570.7,1328.1 1567.6,1335.3 1563.1,1330.0" stroke="none"/>
<polygon points="1545.1,1463.2 1541.6,1456.2 1548.6,1456.2" stroke="none"/>
<line x1="1545.1" y1="1420.8" x2="1545.1" y2="1457.2" stroke-width="1.5"/>
<text><tspan x="1525.3" y="1478.1" font-size="16.8" textLength="29.6" lengthAdjust="spacingAndGlyphs" stroke="#000" stroke-width="0.35">3 H</tspan><tspan x="1555.9" y="1472.1" font-size="11.5" textLength="8.4" lengthAdjust="spacingAndGlyphs" stroke="#000" stroke-width="0.25">+</tspan></text>
<text x="1581.5" y="1372.6" font-size="11.5" textLength="8.8" lengthAdjust="spacingAndGlyphs" stroke="none">Q</text>
<text x="1585.3" y="1401.5" font-size="11.5" textLength="27.4" lengthAdjust="spacingAndGlyphs" stroke="none">QH2</text>
<path d="M1576.3 1371.1Q1567.6 1378.5 1567.8 1385.5Q1568.0 1392.5 1574.1 1396.5" stroke-width="1.3" fill="none" />
<polygon points="1578.2,1399.7 1570.5,1398.3 1574.7,1392.7" stroke="none"/>
<rect x="1690.6" y="1347.9" width="48.2" height="72.9" rx="16.5" ry="18" fill="none" stroke-width="2.0"/>
<path d="M1714.6 1299.7V1347.9" stroke-width="2.0" fill="none" />
<text><tspan x="1695.9" y="1295.1" font-size="16.8" textLength="29.6" lengthAdjust="spacingAndGlyphs" stroke="#000" stroke-width="0.35">4 H</tspan><tspan x="1726.5" y="1289.1" font-size="11.5" textLength="8.4" lengthAdjust="spacingAndGlyphs" stroke="#000" stroke-width="0.25">+</tspan></text>
<text><tspan x="1632.3" y="1322.7" font-size="16.8" textLength="48.5" lengthAdjust="spacingAndGlyphs" stroke="#000" stroke-width="0.35">0.5 O</tspan><tspan x="1681.8" y="1326.9" font-size="11.5" textLength="8.2" lengthAdjust="spacingAndGlyphs" stroke="#000" stroke-width="0.25">2</tspan></text>
<text><tspan x="1734.2" y="1324.6" font-size="13.5" textLength="9.6" lengthAdjust="spacingAndGlyphs" stroke="none">H</tspan><tspan x="1743.8" y="1327.6" font-size="9.5" textLength="5.8" lengthAdjust="spacingAndGlyphs" stroke="none">2</tspan><tspan x="1749.8" y="1324.6" font-size="13.5" textLength="10.4" lengthAdjust="spacingAndGlyphs" stroke="none">O</tspan><tspan x="1760.2" y="1327.6" font-size="9.5" textLength="5.8" lengthAdjust="spacingAndGlyphs" stroke="none">2</tspan></text>
<path d="M1688.9 1331.5Q1702.6 1347.7 1714.6 1347.7Q1725.6 1347.7 1738.1 1332.3" stroke-width="1.4" fill="none" />
<polygon points="1742.6,1328.1 1739.5,1335.3 1735.0,1330.0" stroke="none"/>
<text x="1648.2" y="1376.7" font-size="11.5" textLength="28.0" lengthAdjust="spacingAndGlyphs" stroke="none">QH2</text>
<text x="1663.5" y="1403.4" font-size="11.5" textLength="8.7" lengthAdjust="spacingAndGlyphs" stroke="none">Q</text>
<path d="M1681.8 1372.6Q1689.8 1378.5 1690.0 1385.5Q1689.8 1392.5 1682.1 1397.0" stroke-width="1.3" fill="none" />
<polygon points="1677.7,1400.2 1681.2,1393.2 1685.4,1398.8" stroke="none"/>
<polygon points="1714.2,1459.5 1710.7,1452.5 1717.7,1452.5" stroke="none"/>
<line x1="1714.2" y1="1420.8" x2="1714.2" y2="1453.5" stroke-width="1.5"/>
<text><tspan x="1695.9" y="1477.2" font-size="16.8" textLength="29.6" lengthAdjust="spacingAndGlyphs" stroke="#000" stroke-width="0.35">4 H</tspan><tspan x="1726.5" y="1471.2" font-size="11.5" textLength="8.4" lengthAdjust="spacingAndGlyphs" stroke="#000" stroke-width="0.25">+</tspan></text>
<rect x="1845.6" y="1347.9" width="48.2" height="72.9" rx="16.5" ry="18" fill="none" stroke-width="2.0"/>
<path d="M1869.6 1299.7V1347.9" stroke-width="2.0" fill="none" />
<text><tspan x="1850.3" y="1295.1" font-size="16.8" textLength="29.6" lengthAdjust="spacingAndGlyphs" stroke="#000" stroke-width="0.35">2 H</tspan><tspan x="1880.9" y="1289.1" font-size="11.5" textLength="8.4" lengthAdjust="spacingAndGlyphs" stroke="#000" stroke-width="0.25">+</tspan></text>
<text><tspan x="1794.2" y="1322.7" font-size="16.8" textLength="48.5" lengthAdjust="spacingAndGlyphs" stroke="#000" stroke-width="0.35">0.5 O</tspan><tspan x="1843.7" y="1326.9" font-size="11.5" textLength="8.2" lengthAdjust="spacingAndGlyphs" stroke="#000" stroke-width="0.25">2</tspan></text>
<text><tspan x="1890.0" y="1328.7" font-size="13.5" textLength="9.6" lengthAdjust="spacingAndGlyphs" stroke="none">H</tspan><tspan x="1899.6" y="1331.7" font-size="9.5" textLength="5.8" lengthAdjust="spacingAndGlyphs" stroke="none">2</tspan><tspan x="1905.6" y="1328.7" font-size="13.5" textLength="10.4" lengthAdjust="spacingAndGlyphs" stroke="none">O</tspan><tspan x="1916.0" y="1331.7" font-size="9.5" textLength="5.8" lengthAdjust="spacingAndGlyphs" stroke="none">2</tspan></text>
<path d="M1843.9 1331.5Q1857.6 1347.7 1869.6 1347.7Q1880.6 1347.7 1893.1 1332.3" stroke-width="1.4" fill="none" />
<polygon points="1897.6,1328.1 1894.5,1335.3 1890.0,1330.0" stroke="none"/>
<text x="1803.2" y="1376.7" font-size="11.5" textLength="28.0" lengthAdjust="spacingAndGlyphs" stroke="none">QH2</text>
<text x="1819.4" y="1403.4" font-size="11.5" textLength="8.7" lengthAdjust="spacingAndGlyphs" stroke="none">Q</text>
<path d="M1836.8 1372.6Q1844.8 1378.5 1845.0 1385.5Q1844.8 1392.5 1837.1 1397.0" stroke-width="1.3" fill="none" />
<polygon points="1832.7,1400.2 1836.2,1393.2 1840.4,1398.8" stroke="none"/>
<polygon points="1869.2,1459.5 1865.7,1452.5 1872.7,1452.5" stroke="none"/>
<line x1="1869.2" y1="1420.8" x2="1869.2" y2="1453.5" stroke-width="1.5"/>
<text><tspan x="1850.3" y="1477.2" font-size="16.8" textLength="29.6" lengthAdjust="spacingAndGlyphs" stroke="#000" stroke-width="0.35">2 H</tspan><tspan x="1880.9" y="1471.2" font-size="11.5" textLength="8.4" lengthAdjust="spacingAndGlyphs" stroke="#000" stroke-width="0.25">+</tspan></text>
<rect x="1975.0" y="1348.3" width="47.7" height="73.2" rx="16.5" ry="18" fill="none" stroke-width="2.0"/>
<polygon points="1998.4,1299.2 2001.9,1306.2 1994.9,1306.2" stroke="none"/>
<line x1="1998.4" y1="1348.3" x2="1998.4" y2="1305.2" stroke-width="2.0"/>
<text><tspan x="1978.2" y="1295.1" font-size="16.8" textLength="29.6" lengthAdjust="spacingAndGlyphs" stroke="#000" stroke-width="0.35">3 H</tspan><tspan x="2008.8" y="1289.1" font-size="11.5" textLength="8.4" lengthAdjust="spacingAndGlyphs" stroke="#000" stroke-width="0.25">+</tspan></text>
<text x="1951.1" y="1321.2" font-size="16.8" textLength="36.5" lengthAdjust="spacingAndGlyphs" stroke="#000" stroke-width="0.35">ADP</text>
<text x="2026.2" y="1322.5" font-size="16.8" textLength="32.7" lengthAdjust="spacingAndGlyphs" stroke="#000" stroke-width="0.35">ATP</text>
<path d="M1970.8 1331.5Q1986.4 1348.1 1998.4 1348.1Q2009.4 1348.1 2020.4 1332.0" stroke-width="1.4" fill="none" />
<polygon points="2024.9,1327.8 2021.8,1335.0 2017.3,1329.7" stroke="none"/>
<path d="M1998.2 1421.5V1455.3" stroke-width="1.3" fill="none" />
<text><tspan x="1977.3" y="1477.2" font-size="16.8" textLength="30.5" lengthAdjust="spacingAndGlyphs" stroke="#000" stroke-width="0.35">4 H</tspan><tspan x="2008.9" y="1471.6" font-size="20" textLength="14.4" lengthAdjust="spacingAndGlyphs" stroke="#000" stroke-width="0.35">+</tspan></text>
<clipPath id="c183"><rect x="183.7" y="1805.6" width="836.9000000000001" height="542.7000000000003"/></clipPath>
<g clip-path="url(#c183)">
<polygon points="183.7,2349.0 183.7,1982.9 469.5,2022.9 487.0,2026.5 500.1,2030.6 981.2,2332.9 963.7,2349.0" fill="#0000ff" fill-opacity="0.2" stroke="none"/>
<polygon points="183.7,2349.0 183.7,1830.5 596.6,1885.5 647.9,1897.9 647.9,1941.5" fill="#008000" fill-opacity="0.2" stroke="none"/>
<line x1="183.7" y1="1805.6" x2="183.7" y2="2348.3" stroke="#b0b0b0" stroke-width="2.6"/>
<line x1="329.5" y1="1805.6" x2="329.5" y2="2348.3" stroke="#b0b0b0" stroke-width="2.6"/>
<line x1="475.3" y1="1805.6" x2="475.3" y2="2348.3" stroke="#b0b0b0" stroke-width="2.6"/>
<line x1="621.1" y1="1805.6" x2="621.1" y2="2348.3" stroke="#b0b0b0" stroke-width="2.6"/>
<line x1="766.9" y1="1805.6" x2="766.9" y2="2348.3" stroke="#b0b0b0" stroke-width="2.6"/>
<line x1="912.7" y1="1805.6" x2="912.7" y2="2348.3" stroke="#b0b0b0" stroke-width="2.6"/>
<line x1="183.7" y1="2349.0" x2="1020.6" y2="2349.0" stroke="#b0b0b0" stroke-width="2.6"/>
<line x1="183.7" y1="2245.3" x2="1020.6" y2="2245.3" stroke="#b0b0b0" stroke-width="2.6"/>
<line x1="183.7" y1="2141.6" x2="1020.6" y2="2141.6" stroke="#b0b0b0" stroke-width="2.6"/>
<line x1="183.7" y1="2037.9" x2="1020.6" y2="2037.9" stroke="#b0b0b0" stroke-width="2.6"/>
<line x1="183.7" y1="1934.2" x2="1020.6" y2="1934.2" stroke="#b0b0b0" stroke-width="2.6"/>
<line x1="183.7" y1="1830.5" x2="1020.6" y2="1830.5" stroke="#b0b0b0" stroke-width="2.6"/>
<polyline points="183.7,1982.9 469.5,2022.9 487.0,2026.5 500.1,2030.6 981.2,2332.9 963.7,2349.0 183.7,2349.0" fill="none" stroke="#0000ff" stroke-width="5.2" stroke-linejoin="miter"/>
<polyline points="183.7,1830.5 596.6,1885.5 647.9,1897.9 647.9,1941.5 183.7,2349.0" fill="none" stroke="#008000" stroke-width="5.2" stroke-linejoin="miter"/>
</g>
<rect x="183.7" y="1805.6" width="836.9000000000001" height="542.7000000000003" fill="none" stroke-width="2.8"/>
<line x1="183.7" y1="2348.3" x2="183.7" y2="2358.1000000000004" stroke-width="2.6"/>
<text x="183.7" y="2385.3" font-size="25" text-anchor="middle" stroke="#000" stroke-width="0.7">0.00</text>
<line x1="329.5" y1="2348.3" x2="329.5" y2="2358.1000000000004" stroke-width="2.6"/>
<text x="329.5" y="2385.3" font-size="25" text-anchor="middle" stroke="#000" stroke-width="0.7">0.05</text>
<line x1="475.3" y1="2348.3" x2="475.3" y2="2358.1000000000004" stroke-width="2.6"/>
<text x="475.3" y="2385.3" font-size="25" text-anchor="middle" stroke="#000" stroke-width="0.7">0.10</text>
<line x1="621.1" y1="2348.3" x2="621.1" y2="2358.1000000000004" stroke-width="2.6"/>
<text x="621.1" y="2385.3" font-size="25" text-anchor="middle" stroke="#000" stroke-width="0.7">0.15</text>
<line x1="766.9" y1="2348.3" x2="766.9" y2="2358.1000000000004" stroke-width="2.6"/>
<text x="766.9" y="2385.3" font-size="25" text-anchor="middle" stroke="#000" stroke-width="0.7">0.20</text>
<line x1="912.7" y1="2348.3" x2="912.7" y2="2358.1000000000004" stroke-width="2.6"/>
<text x="912.7" y="2385.3" font-size="25" text-anchor="middle" stroke="#000" stroke-width="0.7">0.25</text>
<line x1="173.89999999999998" y1="2349.0" x2="183.7" y2="2349.0" stroke-width="2.6"/>
<text x="165.9" y="2358.4" font-size="25" text-anchor="end" stroke="#000" stroke-width="0.7">0</text>
<line x1="173.89999999999998" y1="2245.3" x2="183.7" y2="2245.3" stroke-width="2.6"/>
<text x="165.9" y="2254.7" font-size="25" text-anchor="end" stroke="#000" stroke-width="0.7">2</text>
<line x1="173.89999999999998" y1="2141.6" x2="183.7" y2="2141.6" stroke-width="2.6"/>
<text x="165.9" y="2151.0" font-size="25" text-anchor="end" stroke="#000" stroke-width="0.7">4</text>
<line x1="173.89999999999998" y1="2037.9" x2="183.7" y2="2037.9" stroke-width="2.6"/>
<text x="165.9" y="2047.3" font-size="25" text-anchor="end" stroke="#000" stroke-width="0.7">6</text>
<line x1="173.89999999999998" y1="1934.2" x2="183.7" y2="1934.2" stroke-width="2.6"/>
<text x="165.9" y="1943.6" font-size="25" text-anchor="end" stroke="#000" stroke-width="0.7">8</text>
<line x1="173.89999999999998" y1="1830.5" x2="183.7" y2="1830.5" stroke-width="2.6"/>
<text x="165.9" y="1839.9" font-size="25" text-anchor="end" stroke="#000" stroke-width="0.7">10</text>
<text x="458.4" y="2417.9" font-size="25" textLength="286.0" lengthAdjust="spacingAndGlyphs" stroke="#000" stroke-width="0.7">Biomass <tspan font-style="italic">E. coli</tspan> strain 1</text>
<text transform="translate(119.2 2076.9) rotate(-90)" font-size="25" text-anchor="middle" stroke="#000" stroke-width="0.7">Butanol production</text>
<rect x="388.8" y="2250" width="426.5" height="87.39999999999999" rx="5" ry="5" fill="#fff" fill-opacity="0.8" stroke="#ccc" stroke-opacity="0.8" stroke-width="3"/>
<rect x="398.0" y="2260.4" width="54" height="20.6" fill="#0000ff" fill-opacity="0.2" stroke="none"/>
<rect x="398.0" y="2300.6" width="54" height="20.6" fill="#008000" fill-opacity="0.2" stroke="none"/>
<text x="468.6" y="2280.1" font-size="25" textLength="335.0" lengthAdjust="spacingAndGlyphs" stroke="#000" stroke-width="0.7"><tspan font-style="italic">X</tspan> = 0 (Original OptCouple)</text>
<text x="468.6" y="2320.1" font-size="25" textLength="269.5" lengthAdjust="spacingAndGlyphs" stroke="#000" stroke-width="0.7"><tspan font-style="italic">X</tspan> = 7 (New adaption)</text>
<clipPath id="c1263"><rect x="1263.5" y="1805.6" width="838.0" height="542.7000000000003"/></clipPath>
<g clip-path="url(#c1263)">
<polygon points="1263.5,2349.0 1263.5,1982.9 1812.6,2030.9 1825.5,2033.8 1835.5,2037.9 1845.5,2045.7 2061.4,2254.6 2061.4,2349.0" fill="#0000ff" fill-opacity="0.2" stroke="none"/>
<polygon points="1263.5,2349.0 1263.5,1830.5 1524.3,1866.3 1524.3,1893.2" fill="#008000" fill-opacity="0.2" stroke="none"/>
<line x1="1263.5" y1="1805.6" x2="1263.5" y2="2348.3" stroke="#b0b0b0" stroke-width="2.6"/>
<line x1="1406.5" y1="1805.6" x2="1406.5" y2="2348.3" stroke="#b0b0b0" stroke-width="2.6"/>
<line x1="1549.5" y1="1805.6" x2="1549.5" y2="2348.3" stroke="#b0b0b0" stroke-width="2.6"/>
<line x1="1692.5" y1="1805.6" x2="1692.5" y2="2348.3" stroke="#b0b0b0" stroke-width="2.6"/>
<line x1="1835.5" y1="1805.6" x2="1835.5" y2="2348.3" stroke="#b0b0b0" stroke-width="2.6"/>
<line x1="1978.5" y1="1805.6" x2="1978.5" y2="2348.3" stroke="#b0b0b0" stroke-width="2.6"/>
<line x1="1263.5" y1="2349.0" x2="2101.5" y2="2349.0" stroke="#b0b0b0" stroke-width="2.6"/>
<line x1="1263.5" y1="2245.3" x2="2101.5" y2="2245.3" stroke="#b0b0b0" stroke-width="2.6"/>
<line x1="1263.5" y1="2141.6" x2="2101.5" y2="2141.6" stroke="#b0b0b0" stroke-width="2.6"/>
<line x1="1263.5" y1="2037.9" x2="2101.5" y2="2037.9" stroke="#b0b0b0" stroke-width="2.6"/>
<line x1="1263.5" y1="1934.2" x2="2101.5" y2="1934.2" stroke="#b0b0b0" stroke-width="2.6"/>
<line x1="1263.5" y1="1830.5" x2="2101.5" y2="1830.5" stroke="#b0b0b0" stroke-width="2.6"/>
<polyline points="1263.5,1982.9 1812.6,2030.9 1825.5,2033.8 1835.5,2037.9 1845.5,2045.7 2061.4,2254.6 2061.4,2349.0 1263.5,2349.0" fill="none" stroke="#0000ff" stroke-width="5.2" stroke-linejoin="miter"/>
<polyline points="1263.5,1830.5 1524.3,1866.3 1524.3,1893.2 1263.5,2349.0" fill="none" stroke="#008000" stroke-width="5.2" stroke-linejoin="miter"/>
</g>
<rect x="1263.5" y="1805.6" width="838.0" height="542.7000000000003" fill="none" stroke-width="2.8"/>
<line x1="1263.5" y1="2348.3" x2="1263.5" y2="2358.1000000000004" stroke-width="2.6"/>
<text x="1263.5" y="2385.3" font-size="25" text-anchor="middle" stroke="#000" stroke-width="0.7">0.00</text>
<line x1="1406.5" y1="2348.3" x2="1406.5" y2="2358.1000000000004" stroke-width="2.6"/>
<text x="1406.5" y="2385.3" font-size="25" text-anchor="middle" stroke="#000" stroke-width="0.7">0.05</text>
<line x1="1549.5" y1="2348.3" x2="1549.5" y2="2358.1000000000004" stroke-width="2.6"/>
<text x="1549.5" y="2385.3" font-size="25" text-anchor="middle" stroke="#000" stroke-width="0.7">0.10</text>
<line x1="1692.5" y1="2348.3" x2="1692.5" y2="2358.1000000000004" stroke-width="2.6"/>
<text x="1692.5" y="2385.3" font-size="25" text-anchor="middle" stroke="#000" stroke-width="0.7">0.15</text>
<line x1="1835.5" y1="2348.3" x2="1835.5" y2="2358.1000000000004" stroke-width="2.6"/>
<text x="1835.5" y="2385.3" font-size="25" text-anchor="middle" stroke="#000" stroke-width="0.7">0.20</text>
<line x1="1978.5" y1="2348.3" x2="1978.5" y2="2358.1000000000004" stroke-width="2.6"/>
<text x="1978.5" y="2385.3" font-size="25" text-anchor="middle" stroke="#000" stroke-width="0.7">0.25</text>
<line x1="1253.7" y1="2349.0" x2="1263.5" y2="2349.0" stroke-width="2.6"/>
<text x="1245.7" y="2358.4" font-size="25" text-anchor="end" stroke="#000" stroke-width="0.7">0</text>
<line x1="1253.7" y1="2245.3" x2="1263.5" y2="2245.3" stroke-width="2.6"/>
<text x="1245.7" y="2254.7" font-size="25" text-anchor="end" stroke="#000" stroke-width="0.7">2</text>
<line x1="1253.7" y1="2141.6" x2="1263.5" y2="2141.6" stroke-width="2.6"/>
<text x="1245.7" y="2151.0" font-size="25" text-anchor="end" stroke="#000" stroke-width="0.7">4</text>
<line x1="1253.7" y1="2037.9" x2="1263.5" y2="2037.9" stroke-width="2.6"/>
<text x="1245.7" y="2047.3" font-size="25" text-anchor="end" stroke="#000" stroke-width="0.7">6</text>
<line x1="1253.7" y1="1934.2" x2="1263.5" y2="1934.2" stroke-width="2.6"/>
<text x="1245.7" y="1943.6" font-size="25" text-anchor="end" stroke="#000" stroke-width="0.7">8</text>
<line x1="1253.7" y1="1830.5" x2="1263.5" y2="1830.5" stroke-width="2.6"/>
<text x="1245.7" y="1839.9" font-size="25" text-anchor="end" stroke="#000" stroke-width="0.7">10</text>
<text x="1538.7" y="2417.9" font-size="25" textLength="286.0" lengthAdjust="spacingAndGlyphs" stroke="#000" stroke-width="0.7">Biomass <tspan font-style="italic">E. coli</tspan> strain 2</text>
<text transform="translate(1199.0 2076.9) rotate(-90)" font-size="25" text-anchor="middle" stroke="#000" stroke-width="0.7">Butanol production</text>
<rect x="1660.2" y="1817.6" width="428" height="87.39999999999999" rx="5" ry="5" fill="#fff" fill-opacity="0.8" stroke="#ccc" stroke-opacity="0.8" stroke-width="3"/>
<rect x="1669.4" y="1828.0" width="54" height="20.6" fill="#0000ff" fill-opacity="0.2" stroke="none"/>
<rect x="1669.4" y="1868.1999999999998" width="54" height="20.6" fill="#008000" fill-opacity="0.2" stroke="none"/>
<text x="1740.0" y="1847.7" font-size="25" textLength="335.0" lengthAdjust="spacingAndGlyphs" stroke="#000" stroke-width="0.7"><tspan font-style="italic">X</tspan> = 0 (Original OptCouple)</text>
<text x="1740.0" y="1887.7" font-size="25" textLength="269.5" lengthAdjust="spacingAndGlyphs" stroke="#000" stroke-width="0.7"><tspan font-style="italic">X</tspan> = 7 (New adaption)</text>
<text class="cap"><tspan x="1117.9" y="1586.8" font-size="77" textLength="23.1" lengthAdjust="spacingAndGlyphs" stroke="none">(</tspan><tspan x="1141.7" y="1587.2" font-size="74" textLength="35.5" lengthAdjust="spacingAndGlyphs" font-weight="bold" stroke="none">a</tspan><tspan x="1177.8" y="1586.8" font-size="77" textLength="23.1" lengthAdjust="spacingAndGlyphs" stroke="none">)</tspan></text>
<text class="cap"><tspan x="531.8" y="2546.6" font-size="77" textLength="23.1" lengthAdjust="spacingAndGlyphs" stroke="none">(</tspan><tspan x="554.6" y="2547.0" font-size="77.5" textLength="43.1" lengthAdjust="spacingAndGlyphs" font-weight="bold" stroke="none">b</tspan><tspan x="601.1" y="2546.6" font-size="77" textLength="23.1" lengthAdjust="spacingAndGlyphs" stroke="none">)</tspan></text>
<text class="cap"><tspan x="1618.8" y="2546.8" font-size="77" textLength="23.1" lengthAdjust="spacingAndGlyphs" stroke="none">(</tspan><tspan x="1642.3" y="2547.2" font-size="74" textLength="32.6" lengthAdjust="spacingAndGlyphs" font-weight="bold" stroke="none">c</tspan><tspan x="1675.1" y="2546.8" font-size="77" textLength="23.1" lengthAdjust="spacingAndGlyphs" stroke="none">)</tspan></text>
</g>
</svg>
</body></html>
